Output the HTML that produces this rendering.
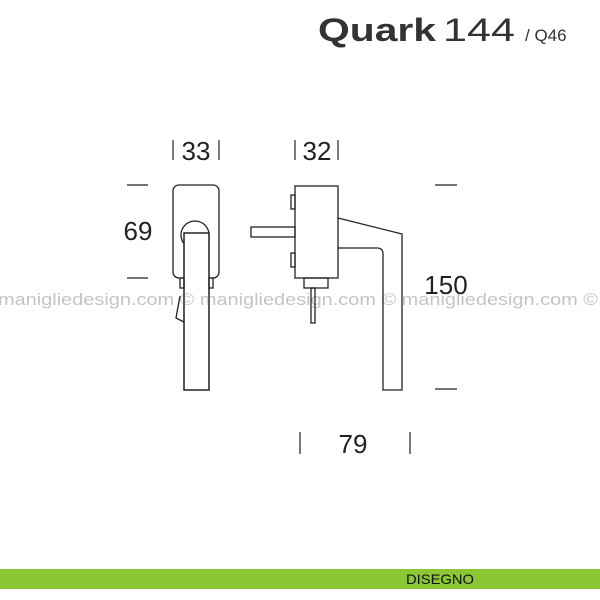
<!DOCTYPE html>
<html><head><style>
body{margin:0;width:600px;height:600px;background:#fff;overflow:hidden;position:relative;font-family:"Liberation Sans",sans-serif}
</style></head><body>
<svg width="600" height="600" style="position:absolute;left:0;top:0" xmlns="http://www.w3.org/2000/svg">
<text x="318" y="41" font-size="32" font-weight="bold" fill="#333" font-family="Liberation Sans" textLength="118" lengthAdjust="spacingAndGlyphs">Quark</text>
<text x="443" y="41" font-size="32" fill="#333" font-family="Liberation Sans" textLength="72" lengthAdjust="spacingAndGlyphs">144</text>
<text x="525" y="41" font-size="17" fill="#333" font-family="Liberation Sans">/ Q46</text>
<g fill="none" stroke="#222" stroke-width="1.3">
<rect x="173" y="185" width="46" height="93" rx="6"/>
<circle cx="195" cy="235" r="14"/>
<rect x="184" y="233" width="25" height="157" fill="#fff"/>
</g>
<text x="-2" y="305" font-size="17" fill="#c4c4c4" font-family="Liberation Sans" textLength="600" lengthAdjust="spacingAndGlyphs">maniglie­design.com © maniglie­design.com © maniglie­design.com ©</text>
<g fill="none" stroke="#222" stroke-width="1.3">
<rect x="184" y="233" width="25" height="157"/>
<rect x="180" y="278" width="4" height="10"/>
<rect x="209" y="278" width="4" height="10"/>
<path d="M180 296 L176 318 L184 322"/>
<rect x="295" y="186" width="43" height="92"/>
<rect x="251" y="227" width="44" height="10"/>
<rect x="291" y="195" width="4" height="14"/>
<rect x="291" y="253" width="4" height="14"/>
<rect x="304" y="278" width="24" height="10"/>
<rect x="311" y="288" width="4" height="35"/>
<path d="M338 218 L402 234 L402 390 L383 390 L383 254 Q383 248 377 248 L338 248"/>
</g>
<g stroke="#222" stroke-width="1.2">
<line x1="173" y1="140" x2="173" y2="160"/><line x1="219" y1="140" x2="219" y2="160"/>
<line x1="295" y1="140" x2="295" y2="160"/><line x1="338" y1="140" x2="338" y2="160"/>
<line x1="127" y1="185" x2="148" y2="185"/><line x1="127" y1="278" x2="148" y2="278"/>
<line x1="435" y1="185" x2="457" y2="185"/><line x1="435" y1="389" x2="457" y2="389"/>
<line x1="300" y1="432" x2="300" y2="454"/><line x1="410" y1="432" x2="410" y2="454"/>
</g>
<g font-size="26" fill="#222" text-anchor="middle" font-family="Liberation Sans">
<text x="196" y="160">33</text>
<text x="317" y="160">32</text>
<text x="138" y="240">69</text>
<text x="446" y="294">150</text>
<text x="353" y="453">79</text>
</g>
<rect x="0" y="569" width="600" height="20" fill="#8bc634"/>
<text x="440" y="584" font-size="14" fill="#111" text-anchor="middle" font-family="Liberation Sans" textLength="68" lengthAdjust="spacingAndGlyphs">DISEGNO</text>
</svg>
</body></html>
